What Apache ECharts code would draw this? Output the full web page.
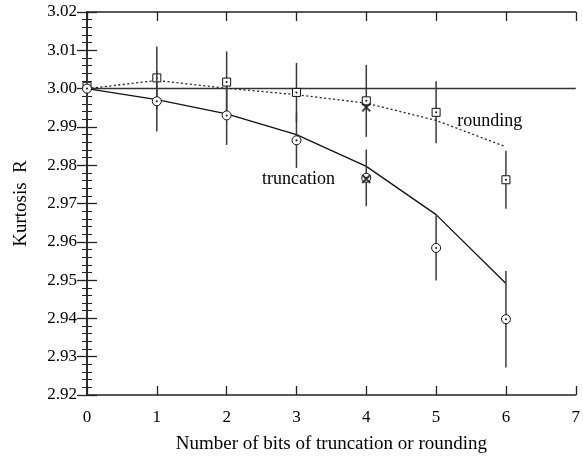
<!DOCTYPE html>
<html>
<head>
<meta charset="utf-8">
<script src="https://cdn.jsdelivr.net/npm/echarts@6/dist/echarts.min.js"></script>
<style>html,body{margin:0;padding:0;background:#fff}#c{width:583px;height:459px}</style>
</head>
<body>
<div id="c"></div>
<script>
// ---- data ----
var bits = [0, 1, 2, 3, 4, 5, 6];
var roundingVals = [3.0006, 3.0028, 3.0017, 2.9990, 2.9968, 2.9938, 2.9762];
var roundingErr  = [0.0080, 0.0082, 0.0080, 0.0077, 0.0094, 0.0081, 0.0076];
var truncVals    = [3.0000, 2.9967, 2.9930, 2.9865, 2.9767, 2.9584, 2.9398];
var truncErr     = [0.0080, 0.0079, 0.0077, 0.0072, 0.0074, 0.0085, 0.0126];
var roundingFit  = [3.0000, 3.0021, 3.0001, 2.9984, 2.9962, 2.9917, 2.9848];
var truncFit     = [3.0000, 2.9971, 2.9934, 2.9880, 2.9797, 2.9671, 2.9491];
var crossX = [4, 4];
var crossY = [2.9951, 2.9764];
var refLevel = 3.00;
var xTicks = [0, 1, 2, 3, 4, 5, 6, 7];
var yTicks = [2.92, 2.93, 2.94, 2.95, 2.96, 2.97, 2.98, 2.99, 3.00, 3.01, 3.02];
var annotText = ['rounding', 'truncation'];
var annotX = [5.77, 3.03];
var annotY = [2.9914, 2.9762];
var xTitle = 'Number of bits of truncation or rounding';
var yTitle = 'Kurtosis  R';

var FONT = '"Liberation Serif", "Times New Roman", serif';
var chart = echarts.init(document.getElementById('c'));

function zip3(a, b, c) { return a.map(function (v, i) { return [v, b[i], c[i]]; }); }
function zip2(a, b) { return a.map(function (v, i) { return [v, b[i]]; }); }

function markerSeries(name, vals, errs, shape) {
  return {
    type: 'custom', name: name, z: 5,
    data: zip3(bits, vals, errs),
    renderItem: function (params, api) {
      var x = api.value(0), y = api.value(1), e = api.value(2);
      var p = api.coord([x, y]);
      var t = api.coord([x, y + e]);
      var b = api.coord([x, y - e]);
      var children = [{
        type: 'line', shape: { x1: p[0], y1: t[1], x2: p[0], y2: b[1] },
        style: { stroke: '#3a3a3a', lineWidth: 1.5 }
      }];
      if (shape === 'rect') {
        children.push({ type: 'rect', shape: { x: p[0] - 4, y: p[1] - 4, width: 8, height: 8 },
          style: { fill: '#fff', stroke: '#111', lineWidth: 1 } });
      } else {
        children.push({ type: 'circle', shape: { cx: p[0], cy: p[1], r: 4.5 },
          style: { fill: '#fff', stroke: '#111', lineWidth: 1 } });
      }
      children.push({ type: 'circle', shape: { cx: p[0], cy: p[1], r: 1 }, style: { fill: '#111' } });
      return { type: 'group', children: children };
    }
  };
}

var option = {
  animation: false,
  backgroundColor: '#fff',
  grid: { left: 87, right: 3, top: 12, bottom: 63 },
  xAxis: [{
    type: 'value', min: xTicks[0], max: xTicks[xTicks.length - 1], interval: 1,
    position: 'bottom',
    name: xTitle, nameLocation: 'middle', nameGap: 40,
    nameTextStyle: { fontFamily: FONT, fontSize: 19, color: '#000' },
    axisLine: { lineStyle: { color: '#222', width: 1.5 } },
    axisTick: { inside: true, length: 9, lineStyle: { color: '#222', width: 1.3 } },
    axisLabel: { fontFamily: FONT, fontSize: 17, color: '#000', margin: 14 },
    splitLine: { show: false }
  }, {
    type: 'value', min: xTicks[0], max: xTicks[xTicks.length - 1], interval: 1,
    position: 'top',
    axisLine: { lineStyle: { color: '#222', width: 1.5 } },
    axisTick: { inside: true, length: 9, lineStyle: { color: '#222', width: 1.3 } },
    axisLabel: { show: false },
    splitLine: { show: false }
  }],
  yAxis: [{
    type: 'value', min: yTicks[0], max: yTicks[yTicks.length - 1], interval: 0.01,
    position: 'left',
    name: yTitle, nameLocation: 'middle', nameGap: 56, nameRotate: 90,
    nameTextStyle: { fontFamily: FONT, fontSize: 19, color: '#000' },
    axisLine: { show: true, lineStyle: { color: '#222', width: 1.5 } },
    axisTick: { show: true, inside: true, length: 10, lineStyle: { color: '#222', width: 1.3 } },
    minorTick: { show: true, splitNumber: 5, length: 5, lineStyle: { color: '#222', width: 1 } },
    axisLabel: { fontFamily: FONT, fontSize: 17, color: '#000', margin: 10,
      formatter: function (v) { return v.toFixed(2); } },
    splitLine: { show: false }
  }, {
    type: 'value', min: yTicks[0], max: yTicks[yTicks.length - 1], interval: 0.01,
    position: 'right',
    axisLine: { show: true, lineStyle: { color: '#222', width: 1.5 } },
    axisTick: { show: true, inside: true, length: 10, lineStyle: { color: '#222', width: 1.3 } },
    minorTick: { show: true, splitNumber: 5, length: 5, lineStyle: { color: '#222', width: 1 } },
    axisLabel: { show: false },
    splitLine: { show: false }
  }],
  series: [
    {
      type: 'line', name: 'ref', data: [[xTicks[0], refLevel], [xTicks[xTicks.length - 1], refLevel]],
      symbol: 'none', lineStyle: { color: '#333', width: 1.5 }, z: 2, silent: true
    },
    {
      type: 'line', name: 'roundingFit', data: zip2(bits, roundingFit),
      symbol: 'none', lineStyle: { color: '#222', width: 1.3, type: [2, 2.5] }, z: 3
    },
    {
      type: 'line', name: 'truncFit', data: zip2(bits, truncFit),
      symbol: 'none', lineStyle: { color: '#111', width: 1.3 }, z: 3
    },
    markerSeries('rounding', roundingVals, roundingErr, 'rect'),
    markerSeries('truncation', truncVals, truncErr, 'circle'),
    {
      type: 'scatter', name: 'cross', data: zip2(crossX, crossY), z: 6,
      symbol: 'path://M0,0L10,10M10,0L0,10', symbolSize: 8,
      itemStyle: { color: 'none', borderColor: '#111', borderWidth: 2 }
    },
    {
      type: 'scatter', name: 'annot', z: 7, symbolSize: 0, silent: true,
      itemStyle: { color: '#000', opacity: 1 },
      data: annotX.map(function (x, i) { return { value: [x, annotY[i]], name: annotText[i] }; }),
      label: { show: true, position: 'inside', formatter: '{b}', textBorderWidth: 0,
        fontFamily: FONT, fontSize: 18, color: '#000' }
    }
  ]
};
chart.setOption(option);
</script>
</body>
</html>
